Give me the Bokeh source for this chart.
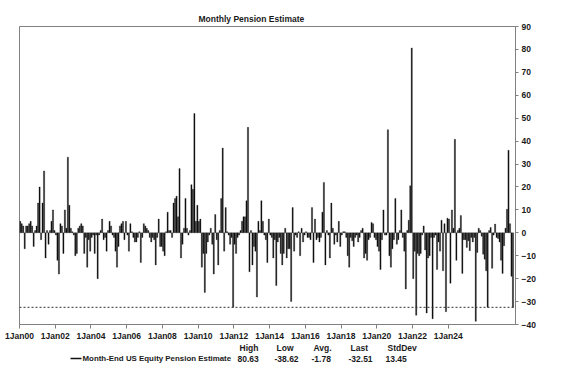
from bokeh.plotting import figure
from bokeh.models import Range1d, FixedTicker, Span, ColumnDataSource
from bokeh.layouts import column
from bokeh.embed import file_html
from bokeh.resources import INLINE
from bokeh.core.properties import value

# ---------------- data ----------------
title_text = "Monthly Pension Estimate"
series_name = "Month-End US Equity Pension Estimate"

# month-end estimates, one per month starting Jan 2000
pension_estimate = [
    5, 4, 3, -7, 3, 3, 4, 5, 3, -6,
    1, 3, 13, 20, -3, 13, 27, -11, 1, -5,
    1, 5, 10, 1, -1, -12, -18, 4, 3, -9,
    10, 2, 33, 12, 2, 0.5, -1, -10, -9, 2,
    3, 4, 3, -9, -2, -15, -3, -8, -2, -1,
    -9, -1, -20, -1, 1, 6,
    -3, -2, -8, 1, 5, 3, -1, -2, -8, -15,
    -6, 3, 4, 5, -3, 5, -1, -8, 4, 0.5,
    -2, -4, -4, -2, 0.5, -13, -2, 4, 3, 2,
    1, -2, -4, -2, -3, -14, -2, 6, -6, -6,
    -8, -10, 0.5, 9, 1, 1, -2, 13, 15, 16,
    7, 28, -11, -5, 2, 15,
    2, -1, 1, 21, 19, 52, 5, 12, 5, 6,
    -15, -9, -26, -9, -4, -1, 2, -5, -18, 8,
    -3, -14, 1, 15, 37, -8, 11, 0.5, -1, -5,
    -2, -32.5, -5, -9, -2, -1, 1, 5, 7, 7,
    14, 46, -17, 1, -14, -6, -8, -28, 5, 1,
    14, 5, -1, -3, -13, 6,
    -1, -2, -11, -3, -23, -4, -2, -9, -14, -9,
    2, -11, -7, -7, -30, 11, -8, -1, -2, 0.5,
    -10, 2, -4, -1, 0.5, -2, -2, -3, 11, -13,
    6, -3, -2, -4, -2, 9, 22, -14, 1, -1,
    -11, 13, 2, -5, -1, -4, 5, -6, -1, 0.5,
    0.5, -2, -10, -15, -2,
    -3.5, -6, -2, -1, -4, -2, 1, 2, -11, -9,
    -12, -3, -2, 4.5, 4, -2, -3, -6, -8, -16,
    -3, 10, -1, -1, 45, -10, -15, -7, -3, 15,
    -5, -3, 1, 10, -2, -8, -24.5, 1, 5.5, 20.5,
    80.63, -20, -8, -36, -9, -10, -9, -1, 3, -7.5,
    -35, -11, -10, -2, -37.5,
    -2, -1, -16, -4, -8, 5.5, -16.6, 4, -34.4, 6.4,
    6, -22, 10, 2, 40.8, -12, 1, 2, 7.6, -17.7,
    -3, -3, -6.4, -3.5, -7.8, -2, -4, -2, -38.62, -8.6,
    2, 1, -1.5, -9.3, -11.5, -16.6, -32.5, 1, 2.3, -15.5,
    -1, 3.8, -2, -2.5, -4, -12, -17.7, -5.7, 2, 10.3,
    36, 4, -19, -32.51,
]

tick_years = [2000, 2002, 2004, 2006, 2008, 2010, 2012,
              2014, 2016, 2018, 2020, 2022, 2024]
tick_labels = ["1Jan00", "1Jan02", "1Jan04", "1Jan06", "1Jan08", "1Jan10",
               "1Jan12", "1Jan14", "1Jan16", "1Jan18", "1Jan20", "1Jan22",
               "1Jan24"]
y_ticks = [-40, -30, -20, -10, 0, 10, 20, 30, 40, 50, 60, 70, 80, 90]

stat_names = ["High", "Low", "Avg.", "Last", "StdDev"]
stat_values = ["80.63", "-38.62", "-1.78", "-32.51", "13.45"]
last_value = -32.51

# ---------------- styling ----------------
FONT = "Liberation Sans"
TXT = "#1a1a1a"
AX = "#808080"
FRAME_LEFT = 19
FRAME_W = 496

months = [i + 0.5 for i in range(len(pension_estimate))]
src = ColumnDataSource(dict(x=months, top=pension_estimate))

p = figure(frame_width=FRAME_W, frame_height=298,
           x_range=Range1d(0, 333.2), y_range=Range1d(-40, 90),
           y_axis_location="right", output_backend="svg",
           toolbar_location=None, min_border_left=FRAME_LEFT,
           min_border_right=12, min_border_top=26, min_border_bottom=0,
           background_fill_color="white", border_fill_color="white")

p.vbar(x="x", top="top", bottom=0, width=0.8, source=src,
       fill_color="#111111", line_color="#111111", line_width=0.3)

p.add_layout(Span(location=last_value, dimension="width",
                  line_color="#333333", line_dash="2 2", line_width=1))

p.title.text = title_text
p.title.align = "left"
p.title.offset = 179
p.title.text_font = FONT
p.title.text_font_size = "8.5px"
p.title.text_font_style = "bold"
p.title.text_color = TXT
p.title.standoff = 6

p.xgrid.grid_line_color = None
p.ygrid.grid_line_color = None
p.outline_line_color = AX
p.outline_line_width = 1

xa = p.xaxis[0]
xa.ticker = FixedTicker(ticks=[(y - tick_years[0]) * 12 for y in tick_years])
xa.major_label_overrides = {(y - tick_years[0]) * 12: lab
                            for y, lab in zip(tick_years, tick_labels)}
xa.major_tick_out = 4
xa.major_tick_in = 0
xa.minor_tick_line_color = None
xa.axis_line_color = AX
xa.major_tick_line_color = AX
xa.major_label_text_font = FONT
xa.major_label_text_font_size = "8.5px"
xa.major_label_text_font_style = "bold"
xa.major_label_text_color = TXT
xa.major_label_standoff = 2

ya = p.yaxis[0]
ya.ticker = FixedTicker(ticks=y_ticks)
ya.major_tick_out = 3
ya.major_tick_in = 0
ya.minor_tick_line_color = None
ya.axis_line_color = AX
ya.major_tick_line_color = AX
ya.major_label_text_font = FONT
ya.major_label_text_font_size = "8.5px"
ya.major_label_text_font_style = "bold"
ya.major_label_text_color = TXT
ya.major_label_standoff = 3

# ---------------- legend / statistics strip ----------------
# frame of the strip matches the chart frame, so its x data = page pixels
LH = 22
q = figure(frame_width=FRAME_W, frame_height=LH,
           x_range=Range1d(FRAME_LEFT, FRAME_LEFT + FRAME_W),
           y_range=Range1d(0, LH),
           output_backend="svg", toolbar_location=None,
           x_axis_type=None, y_axis_type=None, min_border=0,
           min_border_left=FRAME_LEFT, min_border_right=12,
           outline_line_color=None, background_fill_color="white",
           border_fill_color="white")
q.xgrid.grid_line_color = None
q.ygrid.grid_line_color = None

row_head = 18
row_val = 7
col0 = 237
col_step = 37
cols = [col0 + k * col_step for k in range(len(stat_names))]

q.segment(x0=[70], y0=[row_val], x1=[81], y1=[row_val], line_color="#111111",
          line_width=1.5)
q.text(x=[82], y=[row_val], text=[series_name], text_font=value(FONT),
       text_font_size="7.9px", text_font_style="bold", text_color=TXT,
       text_baseline="middle", text_align="left")
q.text(x=[c + 2 for c in cols], y=[row_head] * len(cols), text=stat_names,
       text_font=value(FONT), text_font_size="8.5px", text_font_style="bold",
       text_color=TXT, text_baseline="middle", text_align="left")
q.text(x=cols, y=[row_val] * len(cols), text=stat_values,
       text_font=value(FONT), text_font_size="8.5px", text_font_style="bold",
       text_color=TXT, text_baseline="middle", text_align="left")

layout = column(p, q, spacing=0)
open("out.html", "w").write(file_html(layout, INLINE))
